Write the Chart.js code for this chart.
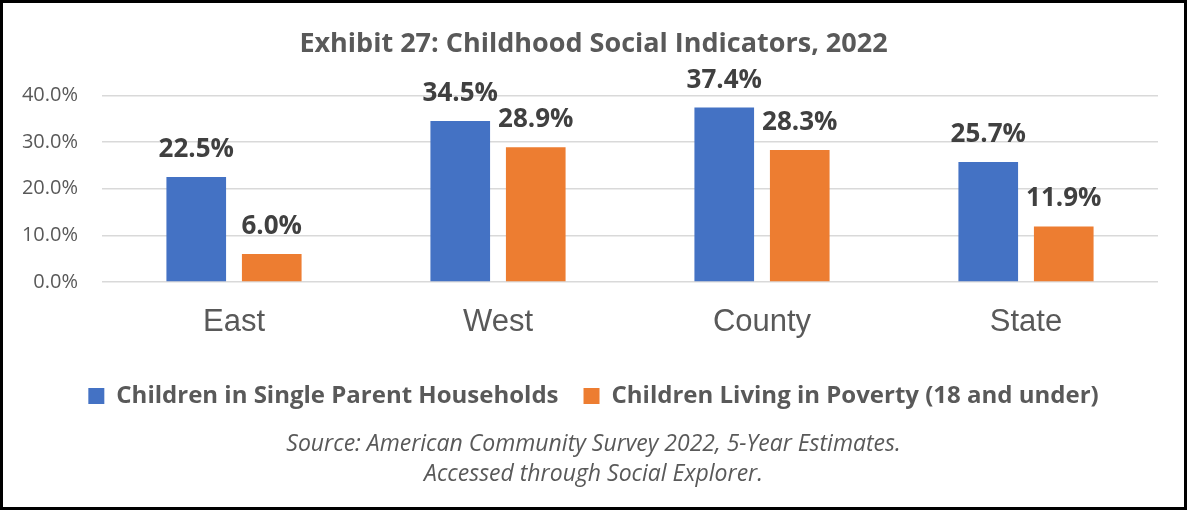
<!DOCTYPE html>
<html>
<head>
<meta charset="utf-8">
<script src="https://cdn.jsdelivr.net/npm/chart.js@4/dist/chart.umd.min.js"></script>
<style>
  body { margin: 0; background: #fff; }
  .box { width: 1187px; height: 510px; box-sizing: border-box; border: 3px solid #000; }
</style>
</head>
<body>
<div class="box"><canvas id="chart" width="1181" height="504"></canvas></div>
<script>
var regions = ['East', 'West', 'County', 'State']
var singleParent = [22.5, 34.5, 37.4, 25.7]
var poverty = [6.0, 28.9, 28.3, 11.9]
var yTicks = [0, 10, 20, 30, 40]

var titleText = 'Exhibit 27: Childhood Social Indicators, 2022'
var sourceText = ['Source: American Community Survey 2022, 5-Year Estimates.', 'Accessed through Social Explorer.']

var grey = '#595959'

// puts the bold % above every bar
var valueLabels = {
  id: 'valueLabels',
  afterDatasetsDraw: function (chart) {
    var ctx = chart.ctx
    ctx.save()
    ctx.font = 'bold 26px "Open Sans"'
    ctx.fillStyle = '#404040'
    ctx.textAlign = 'center'
    ctx.textBaseline = 'alphabetic'
    chart.data.datasets.forEach(function (ds, i) {
      chart.getDatasetMeta(i).data.forEach(function (bar, j) {
        ctx.fillText(ds.data[j].toFixed(1) + '%', bar.x, bar.y - 20)
      })
    })
    ctx.restore()
  }
}

var ctx = document.getElementById('chart').getContext('2d')

var chart = new Chart(ctx, {
  type: 'bar',
  data: {
    labels: regions,
    datasets: [{
      label: 'Children in Single Parent Households',
      data: singleParent,
      backgroundColor: '#4472C4'
    }, {
      label: 'Children Living in Poverty (18 and under)',
      data: poverty,
      backgroundColor: '#ED7D31'
    }]
  },
  options: {
    responsive: false,
    animation: false,
    categoryPercentage: 0.572,
    barPercentage: 0.79,
    layout: { padding: { left: 0, right: 0, top: 0, bottom: 18 } },
    scales: {
      x: {
        afterFit: function (s) { s.height = 77 },
        grid: { display: false, drawTicks: false },
        border: { display: false },
        ticks: { color: grey, padding: 22, font: { family: '"Liberation Sans"', size: 31 } }
      },
      y: {
        min: 0,
        max: 40,
        afterFit: function (s) { s.width = 99 },
        afterBuildTicks: function (s) { s.ticks = yTicks.map(function (v) { return { value: v } }) },
        grid: { color: '#d9d9d9', lineWidth: 1.5, drawTicks: false },
        border: { display: false },
        ticks: {
          color: grey,
          padding: 24,
          font: { family: '"Open Sans"', size: 20 },
          callback: function (v) { return v.toFixed(1) + '%' }
        }
      },
      // empty right margin so the plot ends where the exhibit's does
      yRight: {
        position: 'right',
        afterFit: function (s) { s.width = 26 },
        grid: { display: false },
        border: { display: false },
        ticks: { display: false }
      }
    },
    plugins: {
      title: {
        display: true,
        text: titleText,
        color: grey,
        font: { family: '"Open Sans"', size: 27, weight: 'bold' },
        padding: { top: 25, bottom: 35 }
      },
      legend: {
        position: 'bottom',
        labels: {
          color: grey,
          boxWidth: 16,
          boxHeight: 16,
          padding: 25,
          font: { family: '"Open Sans"', size: 24, weight: 'bold' }
        }
      },
      subtitle: {
        display: true,
        position: 'bottom',
        text: sourceText,
        color: grey,
        font: { family: '"Open Sans"', size: 23, style: 'italic', lineHeight: 1.3043 },
        padding: { top: 11, bottom: 0 }
      },
      tooltip: { enabled: false }
    }
  },
  plugins: [valueLabels]
})
</script>
</body>
</html>
